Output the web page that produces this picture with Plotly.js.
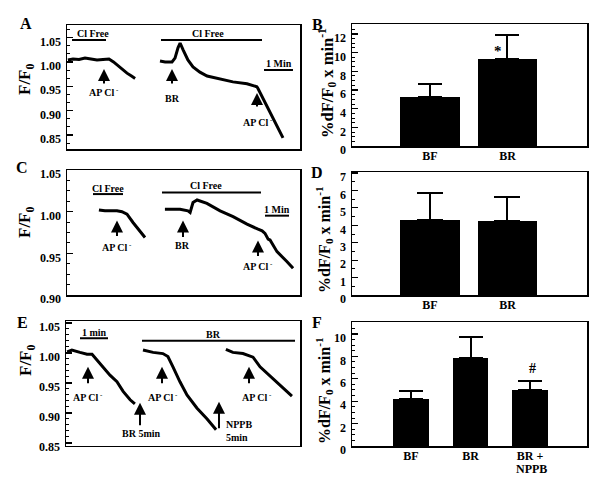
<!DOCTYPE html>
<html><head><meta charset="utf-8">
<script src="https://cdn.plot.ly/plotly-3.0.1.min.js"></script>
<style>html,body{margin:0;padding:0;background:#fff}#chart{width:600px;height:480px}</style>
</head><body><div id="chart"></div>
<script>
// ---------- DATA ----------
// Panel A (time in min, F/F0)
const tA1 = [0.03,0.2,0.4,0.6,0.8,1.0,1.2,1.4,1.55,1.7,1.85,2.0,2.15,2.27];
const fA1 = [1.004,1.006,1.005,1.008,1.006,1.004,1.005,1.006,1.000,0.992,0.984,0.977,0.971,0.966];
const tA2 = [3.1,3.27,3.5,3.6,3.7,3.77,3.87,4.03,4.2,4.43,4.67,5.1,5.53,6.0,6.33,6.37,6.77,7.2];
const fA2 = [1.002,1.000,1.000,1.008,1.029,1.039,1.025,1.004,0.990,0.979,0.971,0.965,0.959,0.955,0.949,0.945,0.895,0.844];
// Panel C
const tC1 = [1.33,1.58,1.88,2.08,2.29,2.5,2.75,3.04,3.25];
const fC1 = [1.002,1.001,1.001,1.001,1.000,0.997,0.987,0.977,0.969];
const tC2 = [4.08,4.38,4.71,5.04,5.13,5.25,5.42,5.83,6.38,6.92,7.5,7.96,8.13,8.25,8.38,8.46,8.75,9.17,9.42];
const fC2 = [1.003,1.003,1.003,1.001,0.999,1.011,1.014,1.010,1.001,0.994,0.985,0.979,0.977,0.974,0.967,0.966,0.952,0.940,0.932];
// Panel E
const tE1 = [0.04,0.21,0.5,0.75,0.93,1.11,1.32,1.57,1.82,2.04,2.29,2.46];
const fE1 = [1.002,1.005,1.001,0.998,0.998,0.988,0.977,0.963,0.952,0.936,0.922,0.915];
const tE2 = [2.75,3.11,3.46,3.64,3.82,4.07,4.32,4.68,5.04,5.36];
const fE2 = [1.005,1.001,0.999,0.994,0.977,0.952,0.930,0.908,0.890,0.872];
const tE3 = [5.71,5.96,6.32,6.68,6.93,7.29,7.64,8.07];
const fE3 = [1.006,1.001,0.999,0.993,0.977,0.961,0.947,0.928];
// Bar panels (%dF/F0 x min-1)
const catsBD = ['BF','BR'];
const rateB = [5.25, 9.3];
const semB  = [1.4, 2.6];
const rateD = [4.3, 4.25];
const semD  = [1.55, 1.4];
const catsF = ['BF','BR','BR + NPPB'];
const tickTextF = ['BF','BR','BR +'];
const rateF = [4.2, 7.9, 5.0];
const semF  = [0.7, 1.85, 0.8];

// ---------- STYLE ----------
const serif = 'Liberation Serif, Times New Roman, serif';
const bold = (s) => ({family: serif, size: s, color: '#000', weight: 'bold'});

function lineTrace(x, y, ax) {
  return {type:'scatter', mode:'lines', x:x, y:y, xaxis:'x'+ax, yaxis:'y'+ax,
    line:{color:'#000', width:3}, hoverinfo:'skip'};
}
function barTrace(x, y, e, ax, w, cap) {
  return {type:'bar', x:x, y:y, xaxis:'x'+ax, yaxis:'y'+ax, width:w,
    marker:{color:'#000', line:{width:0}},
    error_y:{type:'data', symmetric:false, array:e, arrayminus:e.map(()=>0),
      color:'#000', thickness:2, width:cap}, hoverinfo:'skip'};
}

const data = [
  lineTrace(tA1, fA1, ''), lineTrace(tA2, fA2, ''),
  barTrace(catsBD, rateB, semB, '2', 0.77, 12),
  lineTrace(tC1, fC1, '3'), lineTrace(tC2, fC2, '3'),
  barTrace(catsBD, rateD, semD, '4', 0.77, 13),
  lineTrace(tE1, fE1, '5'), lineTrace(tE2, fE2, '5'), lineTrace(tE3, fE3, '5'),
  barTrace(catsF, rateF, semF, '6', 0.6, 12)
];

const px = (a,b) => [a/600, b/600];
const py = (top,bot) => [1-bot/480, 1-top/480];

function frame(extra) {
  return Object.assign({showline:true, linecolor:'#000', linewidth:1.5, mirror:true,
    showgrid:false, zeroline:false, fixedrange:true}, extra);
}
function xTrace(dom, rng, anc) {
  return frame({domain:dom, range:rng, showticklabels:false, ticks:'', anchor:anc});
}
function yAxis(dom, rng, t0, dt, fmt, mdt, anc) {
  return frame({domain:dom, range:rng, anchor:anc, tickmode:'linear', tick0:t0, dtick:dt, tickformat:fmt,
    ticks:'inside', ticklen:6, tickwidth:1.2, tickcolor:'#000',
    tickfont:bold(12), ticklabelshift:4, ticklabelstandoff:2,
    minor:{ticks:'inside', dtick:mdt, ticklen:3, tickwidth:1, tickcolor:'#000'}});
}
function xBar(dom, rng, anc, extra) {
  return frame(Object.assign({domain:dom, range:rng, anchor:anc, ticks:'', tickfont:bold(12),
    ticklabelstandoff:-2, type:'category'}, extra||{}));
}

const layout = {
  width:600, height:480, margin:{l:0,r:0,t:0,b:0},
  paper_bgcolor:'#fff', plot_bgcolor:'#fff', showlegend:false, bargap:0,
  font:{family:serif, color:'#000'},
  xaxis: xTrace(px(67,300), [0, 233/30], 'y'),
  yaxis: yAxis(py(25,149), [0.821, 1.076], 0.85, 0.05, '.2f', 0.05/3, 'x'),
  xaxis2: xBar(px(352,587), [-1.006, 2.026], 'y2'),
  yaxis2: yAxis(py(24,146), [0, 13.07], 0, 2, 'd', 0.5, 'x2'),
  xaxis3: xTrace(px(67,300), [0, 233/24], 'y3'),
  yaxis3: yAxis(py(170,295), [0.90, 1.05], 0.90, 0.05, '.2f', 0.0125, 'x3'),
  xaxis4: xBar(px(352,587), [-1.006, 2.026], 'y4'),
  yaxis4: yAxis(py(172,295), [0, 7.06], 0, 1, 'd', 0.5, 'x4'),
  xaxis5: xTrace(px(66,300), [0, 234/28], 'y5'),
  yaxis5: yAxis(py(321,445.5), [0.8458, 1.0533], 0.85, 0.05, '.2f', 0.01, 'x5'),
  xaxis6: xBar(px(352,587), [-0.992, 2.958], 'y6', {tickmode:'array', tickvals:catsF, ticktext:tickTextF}),
  yaxis6: yAxis(py(322,446), [0, 11.07], 0, 2, 'd', 0.5, 'x6'),
  shapes: [], annotations: []
};

// horizontal marker bars (solution bars and time scale bars)
const hbars = [
  ['x','y',0.167,1.3,1.0453], ['x','y',3.133,6.5,1.0453], ['x','y',6.567,7.533,0.9835],
  ['x3','y3',1.083,2.333,1.0211], ['x3','y3',3.958,8.083,1.023], ['x3','y3',8.25,9.25,0.9952],
  ['x5','y5',0.5,1.5,1.0245], ['x5','y5',2.714,8.179,1.0205]
];
hbars.forEach(b => layout.shapes.push({type:'line', xref:b[0], yref:b[1], x0:b[2], x1:b[3], y0:b[4], y1:b[4],
  line:{color:'#000', width:2}}));

// arrows: [xref, yref, x, yHead, tailOffsetPx]
const arrows = [
  ['x','y',1.233,0.9856,16], ['x','y',3.5,0.9856,16], ['x','y',6.333,0.9362,15],
  ['x3','y3',2.083,0.9893,17], ['x3','y3',4.833,0.9893,18], ['x3','y3',7.958,0.9655,17],
  ['x5','y5',0.786,0.9772,18], ['x5','y5',3.429,0.9772,18], ['x5','y5',6.536,0.9772,18],
  ['x5','y5',2.643,0.9172,24], ['x5','y5',5.464,0.9188,28]
];
arrows.forEach(a => layout.annotations.push({xref:a[0], yref:a[1], x:a[2], y:a[3], text:'',
  showarrow:true, ax:0, ay:a[4], axref:'pixel', ayref:'pixel', arrowhead:2, arrowsize:1.2, arrowwidth:2, arrowcolor:'#000'}));

// text labels: [xref, yref, x, y, text, size, xanchor]
const APCl = 'AP Cl<sup> -</sup>';
const labels = [
  ['x','y',0.867,1.0576,'Cl Free',10], ['x','y',4.7,1.0576,'Cl Free',10], ['x','y',7.067,0.9959,'1 Min',10],
  ['x','y',1.233,0.9383,APCl,10], ['x','y',3.5,0.9239,'BR',10], ['x','y',6.367,0.8765,APCl,10],
  ['x3','y3',1.708,1.0274,'Cl Free',10], ['x3','y3',5.792,1.031,'Cl Free',10], ['x3','y3',8.75,1.0024,'1 Min',10],
  ['x3','y3',2.083,0.9571,APCl,10], ['x3','y3',4.833,0.9595,'BR',10], ['x3','y3',7.958,0.9345,APCl,10],
  ['x5','y5',1.0,1.0338,'1 min',10], ['x5','y5',5.25,1.03,'BR',10],
  ['x5','y5',0.786,0.9262,APCl,10], ['x5','y5',3.464,0.9262,APCl,10], ['x5','y5',6.821,0.9262,APCl,10],
  ['x5','y5',2.714,0.8662,'BR 5min',10], ['x5','y5',5.643,0.8694,'NPPB<br>5min',10,'left'],
  ['x2','y2',0.877,10.2,'*',15], ['x6','y6',2.034,6.96,'#',14]
];
labels.forEach(l => layout.annotations.push({xref:l[0], yref:l[1], x:l[2], y:l[3], text:l[4],
  showarrow:false, font:bold(l[5]), xanchor:l[6]||'center', yanchor:'middle', align:'left'}));

// panel letters, y titles and second line of the F category label (paper coordinates from pixels)
const P = (x,y) => ({x:x/600, y:1-y/480});
const paperText = [
  [26,23,'A',16,0], [317,24,'B',16,0], [22,167,'C',16,0], [317,173,'D',16,0], [22,322,'E',16,0], [317,322,'F',16,0],
  [26,79,'F/F<sub>0</sub>',17,-90], [26,222,'F/F<sub>0</sub>',17,-90], [27,360,'F/F<sub>0</sub>',17,-90],
  [327,83,'%dF/F<sub>0</sub> x min<sup>-1</sup>',16.5,-90], [324,240,'%dF/F<sub>0</sub> x min<sup>-1</sup>',16,-90],
  [324,391,'%dF/F<sub>0</sub> x min<sup>-1</sup>',16,-90],
  [531,469,'NPPB',12,0]
];
paperText.forEach(p => { const q = P(p[0],p[1]); layout.annotations.push({xref:'paper', yref:'paper', x:q.x, y:q.y,
  text:p[2], showarrow:false, font:bold(p[3]), textangle:p[4], xanchor:'center', yanchor:'middle'}); });

Plotly.newPlot('chart', data, layout, {staticPlot:true, displayModeBar:false});
</script>
</body></html>
